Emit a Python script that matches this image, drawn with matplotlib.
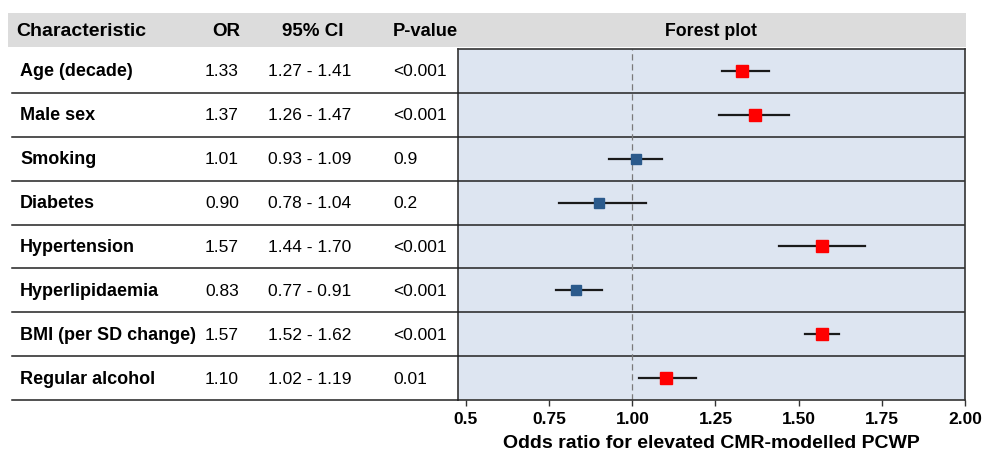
"""
Forest plot of odds ratios for elevated CMR-modelled PCWP.
"""

import matplotlib.pyplot as plt
from matplotlib.patches import Rectangle
from matplotlib.lines import Line2D

plt.rcParams['font.family'] = ['Liberation Sans', 'DejaVu Sans']

characteristics = ['Age (decade)', 'Male sex', 'Smoking', 'Diabetes',
                   'Hypertension', 'Hyperlipidaemia', 'BMI (per SD change)',
                   'Regular alcohol']
odds_ratio = [1.33, 1.37, 1.01, 0.90, 1.57, 0.83, 1.57, 1.10]
ci_low = [1.27, 1.26, 0.93, 0.78, 1.44, 0.77, 1.52, 1.02]
ci_high = [1.41, 1.47, 1.09, 1.04, 1.70, 0.91, 1.62, 1.19]
p_values = ['<0.001', '<0.001', '0.9', '0.2', '<0.001', '<0.001', '<0.001', '0.01']
significant = [True, True, False, False, True, False, True, True]
x_ticks = [0.5, 0.75, 1.00, 1.25, 1.50, 1.75, 2.00]
x_tick_labels = ['0.5', '0.75', '1.00', '1.25', '1.50', '1.75', '2.00']

W, H = 990, 452
fig = plt.figure(figsize=(W / 100, H / 100), dpi=100)


def fx(px):
    return px / W


def fy(py):
    return 1 - py / H


# header band
fig.patches.append(Rectangle((fx(8), fy(48)), fx(966) - fx(8), fy(14) - fy(48),
                             transform=fig.transFigure, facecolor='#dcdcdc',
                             edgecolor='none', zorder=0))

ax_left, ax_right, ax_top, ax_bot = 458, 965, 50, 401
ax = fig.add_axes([fx(ax_left), fy(ax_bot), fx(ax_right) - fx(ax_left), fy(ax_top) - fy(ax_bot)])
ax.set_facecolor('#dde5f1')

n = len(characteristics)
ax.set_ylim(n, 0)
ax.set_xlim(0.476, 2.0)

# row separators inside plot
for i in range(1, n):
    ax.axhline(i, color='#222222', linewidth=1.1, zorder=1)
ax.axvline(1.0, color='#7a7a7a', linestyle=(0, (5, 3)), linewidth=0.9, zorder=1)

for i in range(n):
    y = i + 0.5
    ax.plot([ci_low[i], ci_high[i]], [y, y], color='#1a1a1a', linewidth=1.6, zorder=2)
    if significant[i]:
        ax.plot(odds_ratio[i], y, marker='s', markersize=9, color='#ff0000',
                markeredgecolor='#ff0000', zorder=3)
    else:
        ax.plot(odds_ratio[i], y, marker='s', markersize=6.5, color='#2b5a8c',
                markeredgecolor='#2b5a8c', zorder=3)

ax.set_yticks([])
ax.set_xticks(x_ticks)
ax.set_xticklabels(x_tick_labels, fontsize=12.5, fontweight='bold')
ax.tick_params(axis='x', length=4, width=1, color='#333333', pad=4)
for s in ax.spines.values():
    s.set_color('#333333')
    s.set_linewidth(1.2)
ax.set_xlabel('Odds ratio for elevated CMR-modelled PCWP', fontsize=14,
              fontweight='bold', labelpad=6)

# header text
hy = fy(31)
fig.text(fx(16), hy, 'Characteristic', fontsize=14, fontweight='bold', va='center')
fig.text(fx(226), hy, 'OR', fontsize=13.5, fontweight='bold', va='center', ha='center')
fig.text(fx(313), hy, '95% CI', fontsize=13.5, fontweight='bold', va='center', ha='center')
fig.text(fx(393), hy, 'P-value', fontsize=13.2, fontweight='bold', va='center')
fig.text(fx(711), hy, 'Forest plot', fontsize=12.8, fontweight='bold', va='center', ha='center')

# table rows
row_h = (ax_bot - ax_top) / n
for i in range(n):
    cy = fy(ax_top + row_h * (i + 0.5))
    fig.text(fx(20), cy, characteristics[i], fontsize=13, fontweight='bold', va='center')
    fig.text(fx(222), cy, f'{odds_ratio[i]:.2f}', fontsize=12.5, va='center', ha='center')
    fig.text(fx(310), cy, f'{ci_low[i]:.2f} - {ci_high[i]:.2f}', fontsize=12.5,
             va='center', ha='center')
    fig.text(fx(393), cy, p_values[i], fontsize=12.5, va='center')
    ly = fy(ax_top + row_h * (i + 1))
    fig.lines.append(Line2D([fx(12), fx(ax_left)], [ly, ly], transform=fig.transFigure,
                            color='#222222', linewidth=1.1))

plt.savefig('out.png', dpi=100)
